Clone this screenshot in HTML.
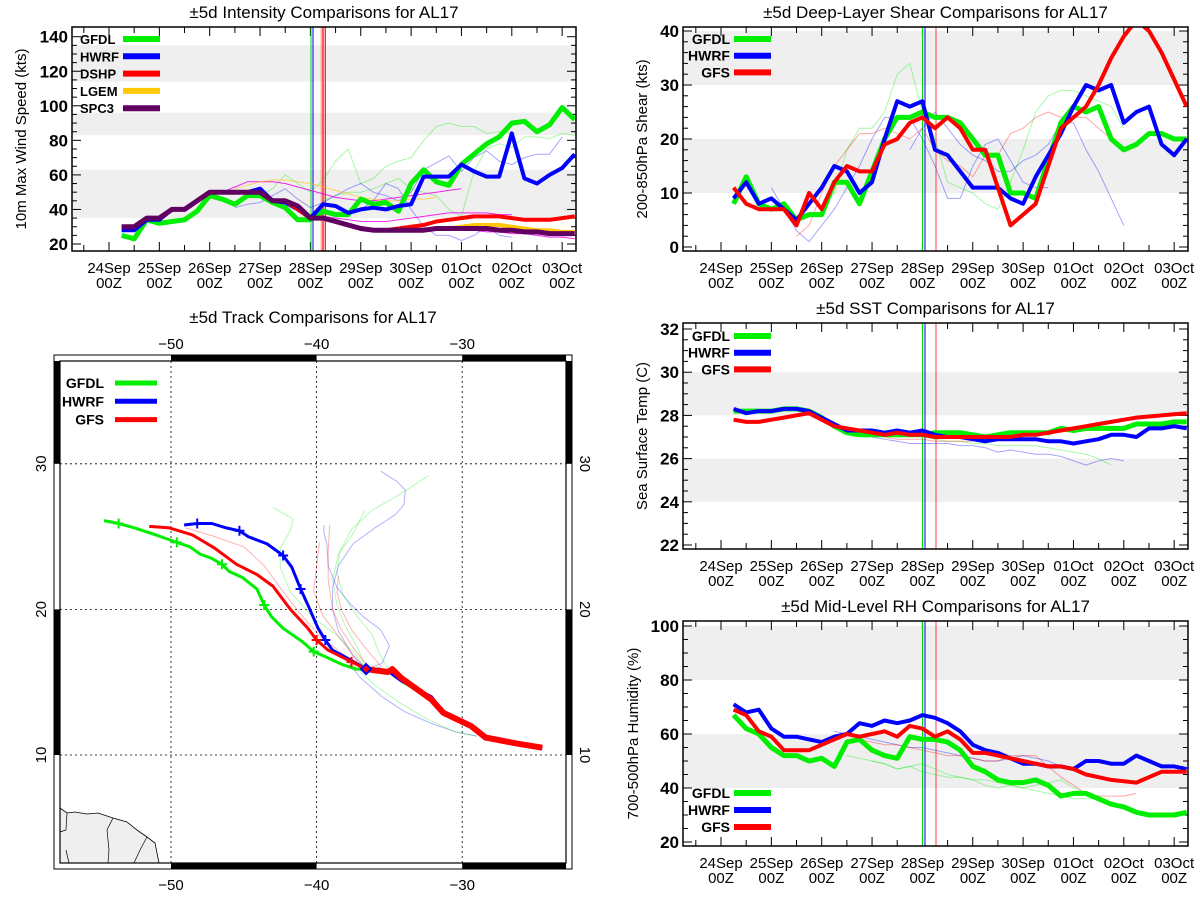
<!DOCTYPE html>
<html><head><meta charset="utf-8"><style>
html,body{margin:0;padding:0;background:#fff;}
svg{display:block;font-family:"Liberation Sans",sans-serif;}
</style></head><body>
<svg id="s" width="1200" height="900" viewBox="0 0 1200 900" xmlns="http://www.w3.org/2000/svg"></svg>
<script>
// ---------- data ----------
const dayLabels = ["24Sep","25Sep","26Sep","27Sep","28Sep","29Sep","30Sep","01Oct","02Oct","03Oct"];
// time-series values at 6h steps, starting t=1 (24Sep 06Z)
const intGFDL = [25,23,34,32,33,34,39,48,46,43,48,48,44,41,34,34,39,37,37,46,43,44,39,55,63,56,54,66,72,78,82,90,91,85,89,99,92];
const intHWRF = [28,28,34,34,40,40,45,50,50,50,50,52,45,44,40,35,43,42,38,40,41,40,42,43,59,59,59,66,62,59,59,84,58,55,60,64,72];
const intDSHP = [30,30,35,35,40,40,45,50,50,50,50,50,45,45,40,35,35,33,31,29,28,28,29,30,31,33,34,35,36,36,36,35,34,34,34,35,36];
const intLGEM = [30,30,35,35,40,40,45,50,50,50,50,50,45,45,42,35,35,33,31,29,28,28,28,28,28,29,29,30,31,31,31,30,29,28,28,27,27];
const intSPC3 = [30,30,35,35,40,40,45,50,50,50,50,50,45,45,42,35,35,33,31,29,28,28,28,28,28,29,29,29,29,29,28,28,27,27,26,26,26];
const intThinG1 = [48,52,60,55,50,57,68,75,55,58,65,68,70,80,88,90,88,88,84,85,84];
const intThinG2 = [45,48,50,50,52,55,58,52,50,48,40,36,62,75,78,76,82,82,81,84,83,80];
const intThinB1 = [41,43,44,48,52,46,41,44,48,52,55,50,48,45,50,63,67,71,62,70,74,68,66,70,72,72,82];
const intThinB2 = [38,40,45,55,52,40,30,25,25,22,25,30,25,24];
const intMag1 = [50,53,56,56,56,55,53,51,49,47,46,45,45,46,47,48,49,50,51,52];
const intMag2 = [36,35,34,33,33,33,34,35,36,37,38,38,38,38,37,37];
const intMag3 = [35,33,31,30,29,28,28,28,28,28,28,28,28,27,27,26,26,25,24,24,23];
const intYel1 = [52,54,56,57,57,56,55,53,51,49,47,46,45,45,46,46,47];

const shrGFDL = [8,13,8,7,8,5,6,6,12,12,8,14,20,24,24,25,24,24,23,20,17,17,10,10,9,16,23,26,25,26,20,18,19,21,21,20,20];
const shrHWRF = [9,12,8,9,7,5,8,11,15,14,10,12,20,27,26,27,18,17,14,11,11,11,9,8,13,17,21,26,30,29,30,23,25,26,19,17,20];
const shrGFS  = [11,8,7,7,7,4,10,7,12,15,14,14,19,20,23,24,22,24,22,18,18,11,4,6,8,15,22,24,26,30,35,39,42,40,36,31,26];
const shrThinG1 = [7,10,18,22,22,25,32,34,25,20,12,11,10,8,7,12,18,25,28,29,29,28,27,26,22];
const shrThinB1 = [11,7,3,1,4,7,11,15,20,24,24,24,20,15,9,9,15,19,20,16,12,11,11];
const shrThinR1 = [2,4,10,15,18,21,21,22,21,20,22,18,16,15,13,17,17,21,22,24,25,24,24,24,22,20];
const shrThinB2 = [18,22,25,22,19,17,16,14,14,16,17,19,23,23,18,14,9,4];

const sstGFDL = [28.2,28.2,28.2,28.2,28.3,28.3,28.2,27.9,27.5,27.2,27.1,27.1,27.1,27.1,27.1,27.1,27.2,27.2,27.2,27.1,27.0,27.1,27.2,27.2,27.2,27.2,27.4,27.3,27.4,27.4,27.4,27.4,27.6,27.6,27.6,27.7,27.7];
const sstHWRF = [28.3,28.1,28.2,28.2,28.3,28.3,28.2,27.9,27.6,27.3,27.3,27.3,27.2,27.3,27.2,27.3,27.1,27.0,27.0,26.9,26.8,26.9,26.9,26.9,26.9,26.8,26.8,26.7,26.8,26.9,27.1,27.1,27.0,27.4,27.4,27.5,27.4];
const sstGFS  = [27.8,27.7,27.7,27.8,27.9,28.0,28.1,27.8,27.5,27.4,27.3,27.2,27.1,27.2,27.1,27.1,27.0,27.0,27.0,27.0,27.0,27.0,27.0,27.1,27.1,27.2,27.3,27.4,27.5,27.6,27.7,27.8,27.9,27.95,28.0,28.05,28.1];
const sstThinB1 = [27.0,26.9,26.8,26.7,26.7,26.7,26.7,26.6,26.6,26.5,26.3,26.4,26.3,26.2,26.2,26.1,25.9,25.7,25.9,26.0,25.9];
const sstThinG1 = [27.0,26.9,26.8,26.8,26.7,26.7,26.6,26.6,26.6,26.6,26.5,26.4,26.3,26.2,26.0,25.7];
const sstThinR1 = [27.1,27.0,26.9,26.9,26.9,26.8,26.8,26.8,26.8,26.9,26.9,27.0,27.0,27.1,27.2,27.3,27.4,27.5,27.6,27.7,27.8,27.9];

const rhGFDL = [67,62,60,55,52,52,50,51,48,57,58,54,52,51,59,58,58,57,54,48,46,43,42,42,43,41,37,38,38,36,34,33,31,30,30,30,31];
const rhHWRF = [71,68,69,62,59,59,58,57,59,60,64,63,65,64,65,67,66,64,61,56,54,53,51,49,49,48,48,47,50,50,49,49,52,50,48,48,47];
const rhGFS  = [69,67,61,59,54,54,54,56,58,60,59,60,61,59,63,62,59,61,58,53,53,52,51,50,49,48,48,47,45,44,43,42.5,42,44,46,46,46];
const rhThinG1 = [52,51,50,49,47,48,49,47,45,44,43,43,42,41,40,41,42,43,40,38,36];
const rhThinG2 = [50,49,47,48,46,45,44,44,43,41,40,41,40,39,38,37,36,36,36];
const rhThinB1 = [61,60,59,58,57,56,55,55,54,53,52,51,50,50,51,52,51,50,48,47,45,44,43];
const rhThinR1 = [58,58,57,56,56,55,54,53,52,52,51,50,50,52,52,52,48,44,41,38,37,37,37,38];

// track data [lon, lat]
const trkGFDL = [[-54.6,26.1],[-53.6,25.9],[-52.5,25.6],[-51,25.1],[-49.6,24.6],[-48.7,24.3],[-48,23.8],[-47.2,23.5],[-46.5,23.1],[-46,22.6],[-45.1,22.2],[-44.1,21.4],[-43.6,20.3],[-43.1,19.5],[-42.3,18.7],[-41,17.8],[-40.2,17.1],[-39.3,16.7],[-38.2,16.2],[-37.3,15.9],[-36.6,15.9],[-35,15.7],[-34.2,15.1],[-32.1,13.8],[-31.3,12.9],[-29.4,12],[-28.4,11.2],[-26.3,10.8],[-24.5,10.55]];
const trkHWRF = [[-49.1,25.8],[-48.2,25.9],[-47.2,25.9],[-46.2,25.6],[-45.3,25.4],[-44.7,25],[-43.4,24.5],[-42.3,23.7],[-41.7,22.9],[-41.1,21.4],[-40.6,20.3],[-39.9,18.7],[-39.4,17.9],[-38.9,17.2],[-37.8,16.6],[-36.6,15.9],[-35.7,15.9],[-35,15.7],[-34.2,15.1],[-32.1,14],[-31.3,12.9],[-29.4,12],[-28.4,11.1],[-26.3,10.8],[-24.5,10.45]];
const trkGFS = [[-51.5,25.7],[-50.1,25.6],[-48.5,25.1],[-47,24.2],[-45.5,23.1],[-44.1,22.4],[-43,21.6],[-41.8,20],[-40.6,18.7],[-40,17.9],[-39.2,17.2],[-37.6,16.4],[-36.6,15.9],[-35.1,15.7],[-34.8,15.9],[-34.2,15.3],[-32.1,13.8],[-31.3,12.9],[-29.4,12],[-28.4,11.2],[-26.3,10.8],[-24.5,10.5]];
const trkGFDLmarks = [[-53.6,25.9],[-49.6,24.6],[-46.5,23.1],[-43.6,20.3],[-40.2,17.1]];
const trkHWRFmarks = [[-48.2,25.9],[-45.3,25.4],[-42.3,23.7],[-41.1,21.4],[-39.4,17.9]];
const trkGFSmarks = [[-40,17.9],[-37.6,16.4]];
const trkThinB1 = [[-36.6,15.9],[-37.5,16.8],[-38.5,18.5],[-38.9,20],[-38.9,21.5],[-38.5,23],[-37.5,24.5],[-36,25.6],[-34.6,26.5],[-34,27.2],[-33.9,28.2],[-34.5,28.8],[-35.6,29.5]];
const trkThinB2 = [[-36.6,15.9],[-35.5,16.3],[-35,17.5],[-35.6,18.6],[-36.8,19.5],[-37.7,20.4],[-38.6,21.5],[-39.2,23],[-39.3,24.5],[-39.5,25.3],[-39.5,25.8]];
const trkThinB3 = [[-38,16.6],[-37,15.3],[-35.5,14],[-34,13],[-32.2,12.2],[-30.5,11.6],[-29,11.3]];
const trkThinG4 = [[-37.5,16.2],[-36,14.8],[-34.3,13.6],[-32.5,12.5],[-30.5,11.6],[-29,11.3]];
const trkThinG1 = [[-36.6,15.9],[-37.4,17],[-38.7,18.3],[-40.2,19.4],[-41.8,21.2],[-42.5,22.9],[-42.5,24.2],[-41.8,25.4],[-41.6,26.2],[-43,27]];
const trkThinG2 = [[-35,15.7],[-35.7,17],[-36.2,18.3],[-37.2,19.5],[-38.2,21],[-38.6,22.5],[-38.4,24],[-37.6,25.5],[-36.2,26.8],[-34.3,27.9],[-32.3,29.2]];
const trkThinG3 = [[-36.6,15.9],[-37.2,17.4],[-38,18.8],[-38.6,20.3],[-38.9,22],[-38.5,23.8],[-37.5,25.2],[-36.7,26.8]];
const trkThinR1 = [[-36.6,15.9],[-37.6,17],[-38.6,18.3],[-39.6,19.6],[-40.2,21.3],[-40,23],[-39.8,24.6]];
const trkThinR2 = [[-36.6,15.9],[-38,16.8],[-39.8,18.2],[-41.2,19.8],[-42.5,21.5],[-43.6,23],[-45,24.3],[-47,25],[-49,25.6]];
const trkThinR3 = [[-35.5,16],[-36.6,17.3],[-37.6,18.6],[-38.3,20],[-38.6,21.2],[-38.5,22.3]];
const trkThinR4 = [[-36.2,15.8],[-37.3,17.1],[-38.3,18.6],[-38.9,20],[-39.2,22],[-39.2,24],[-39.1,25.8]];

// ---------- drawing helpers ----------
const NS="http://www.w3.org/2000/svg";
const svg=document.getElementById('s');
function mk(tag,attrs,parent){const e=document.createElementNS(NS,tag);for(const k in attrs)e.setAttribute(k,attrs[k]);(parent||svg).appendChild(e);return e;}
function txt(x,y,s,attrs,parent){const e=mk('text',Object.assign({x:x,y:y},attrs||{}),parent);e.textContent=s;return e;}

function panel(cfg){
  const g=mk('g',{});
  
  
  const step=50.35/4;
  const xs=t=>cfg.x24+t*step;
  const ys=v=>cfg.yTop+(cfg.vTop-v)*(cfg.yBot-cfg.yTop)/(cfg.vTop-cfg.vBot);
  const cid='clip-'+cfg.name;
  const cp=mk('clipPath',{id:cid},g);
  mk('rect',{x:cfg.L,y:cfg.T,width:cfg.R-cfg.L,height:cfg.B-cfg.T},cp);
  cfg.bands.forEach(b=>{
    const r=mk('rect',{x:cfg.L,y:ys(b[1]),width:cfg.R-cfg.L,height:ys(b[0])-ys(b[1]),fill:'#efefef'},g);
    
    
  });
  const tt=txt((cfg.L+cfg.R)/2,cfg.T-9,cfg.title,{'text-anchor':'middle','font-size':'17','fill':'#000'},g);
  
  
  for(let v=cfg.vBot;v<=cfg.vTop+1e-9;v+=cfg.minor){
    const y=ys(v);
    const isMaj=Math.abs(((v-cfg.vBot)/cfg.major)-Math.round((v-cfg.vBot)/cfg.major))<1e-6;
    const len=isMaj?9:5;
    mk('line',{x1:cfg.L,x2:cfg.L+len,y1:y,y2:y,stroke:'#000','stroke-width':1},g);
    mk('line',{x1:cfg.R,x2:cfg.R-len,y1:y,y2:y,stroke:'#000','stroke-width':1},g);
    if(isMaj){
      const l=txt(cfg.L-4,y+6,String(Math.round(v)),{'text-anchor':'end','font-size':'17','font-weight':'bold'},g);
      
      
    }
  }
  const yc=(cfg.T+cfg.B)/2;
  const yt=txt(cfg.ytx,yc,cfg.ytitle,{'text-anchor':'middle','font-size':'15','transform':'rotate(-90 '+cfg.ytx+' '+yc+')'},g);
  
  
  for(let t=-2;t<=37;t+=2){
    const x=xs(t); if(x<cfg.L||x>cfg.R) continue;
    const len=(t%4===0)?9:6;
    mk('line',{x1:x,x2:x,y1:cfg.B,y2:cfg.B-len,stroke:'#000','stroke-width':1},g);
    mk('line',{x1:x,x2:x,y1:cfg.T,y2:cfg.T+len,stroke:'#000','stroke-width':1},g);
  }
  dayLabels.forEach((d,i)=>{
    const x=xs(i*4);
    const a=txt(x,cfg.B+22,d,{'text-anchor':'middle','font-size':'15'},g);
    
    
    const b=txt(x,cfg.B+37,'00Z',{'text-anchor':'middle','font-size':'15'},g);
    
    
  });
  const pg=mk('g',{'clip-path':'url(#'+cid+')'},g);
  cfg.vlines.forEach(v=>{
    const l=mk('line',{x1:v[0],x2:v[0],y1:cfg.T,y2:cfg.B,stroke:v[1],'stroke-width':v[2]||1,'stroke-opacity':v[3]||1},pg);
    
    
  });
  function series(arr,t0,color,w,op,name){
    const d=arr.map((v,i)=>(i?'L':'M')+xs(t0+i).toFixed(1)+' '+ys(v).toFixed(1)).join(' ');
    const p=mk('path',{d:d,fill:'none',stroke:color,'stroke-width':w,'stroke-opacity':op,'stroke-linejoin':'round'},pg);
    
    
  }
  cfg.thin.forEach(s=>series(s[0],s[1],s[2],1,s[3]||0.35,'ensemble-line'));
  cfg.thick.forEach(s=>series(s[0],1,s[1],s[2]||4.5,1,s[3]));
  const fr=mk('rect',{x:cfg.L,y:cfg.T,width:cfg.R-cfg.L,height:cfg.B-cfg.T,fill:'none',stroke:'#000','stroke-width':1.5},g);
  
  
  cfg.legend.forEach((e,i)=>{
    const y=cfg.legY+i*cfg.legDy;
    const lg=mk('g',{},g);
    
    
    if(cfg.legLeft) txt(cfg.legLeft,y+5,e[0],{'text-anchor':'start','font-size':'13','font-weight':'bold'},lg);
    else txt(cfg.legTx,y+5,e[0],{'text-anchor':'end','font-size':'14','font-weight':'bold'},lg);
    mk('line',{x1:cfg.legX1,x2:cfg.legX2,y1:y,y2:y,stroke:e[1],'stroke-width':6},lg);
  });
}

panel({name:'intensity-chart',title:'±5d Intensity Comparisons for AL17',L:72,R:576,T:27,B:251,x24:109,
  yTop:36.7,yBot:244,vTop:140,vBot:20,major:20,minor:5,ytitle:'10m Max Wind Speed (kts)',ytx:26,
  bands:[[35,63],[83,96],[114,135]],
  vlines:[[311,'#00dd00'],[313,'#0000ff'],[323,'#ff6a6a',5,0.5],[323,'#ff0000',1],[325.5,'#a040a0',1]],
  thin:[[intThinG1,12,'#00ee00'],[intThinG2,17,'#00ee00'],[intThinB1,10,'#0000ff'],[intThinB2,19,'#0000ff'],
        [intMag1,9,'#ee00ee',0.85],[intMag2,17,'#ee00ee',0.85],[intMag3,17,'#ee00ee',0.85],[intYel1,10,'#ffc000',0.6]],
  thick:[[intGFDL,'#00ee00',5,'series-gfdl'],[intHWRF,'#0000ff',4,'series-hwrf'],[intDSHP,'#ff0000',4,'series-dshp'],[intLGEM,'#ffc800',4,'series-lgem'],[intSPC3,'#600060',5,'series-spc3']],
  legend:[['GFDL','#00ee00'],['HWRF','#0000ff'],['DSHP','#ff0000'],['LGEM','#ffc800'],['SPC3','#600060']],
  legY:39,legDy:17.3,legLeft:80,legTx:117,legX1:123,legX2:160});

panel({name:'shear-chart',title:'±5d Deep-Layer Shear Comparisons for AL17',L:683,R:1188,T:27,B:251,x24:721,
  yTop:31,yBot:247,vTop:40,vBot:0,major:10,minor:2,ytitle:'200-850hPa Shear (kts)',ytx:647,
  bands:[[10,20],[30,40]],
  vlines:[[922.5,'#00dd00'],[925,'#0000ff'],[936,'#ff4040']],
  thin:[[shrThinG1,8,'#00ee00'],[shrThinB1,4,'#0000ff'],[shrThinR1,6,'#ff0000'],[shrThinB2,15,'#0000ff']],
  thick:[[shrGFDL,'#00ee00',5,'series-gfdl'],[shrHWRF,'#0000ff',4,'series-hwrf'],[shrGFS,'#ff0000',4,'series-gfs']],
  legend:[['GFDL','#00ee00'],['HWRF','#0000ff'],['GFS','#ff0000']],
  legY:39,legDy:16.7,legTx:730,legX1:734,legX2:771});

panel({name:'sst-chart',title:'±5d SST Comparisons for AL17',L:683,R:1188,T:323,B:549,x24:721,
  yTop:329,yBot:545,vTop:32,vBot:22,major:2,minor:0.5,ytitle:'Sea Surface Temp (C)',ytx:647,
  bands:[[24,26],[28,30]],
  vlines:[[922.5,'#00dd00'],[925,'#0000ff'],[936,'#ff4040']],
  thin:[[sstThinB1,12,'#0000ff'],[sstThinG1,16,'#00ee00'],[sstThinR1,12,'#ff0000']],
  thick:[[sstGFDL,'#00ee00',5,'series-gfdl'],[sstHWRF,'#0000ff',4,'series-hwrf'],[sstGFS,'#ff0000',4,'series-gfs']],
  legend:[['GFDL','#00ee00'],['HWRF','#0000ff'],['GFS','#ff0000']],
  legY:336,legDy:16.7,legTx:730,legX1:734,legX2:771});

panel({name:'rh-chart',title:'±5d Mid-Level RH Comparisons for AL17',L:683,R:1188,T:621,B:846,x24:721,
  yTop:626,yBot:842,vTop:100,vBot:20,major:20,minor:5,ytitle:'700-500hPa Humidity (%)',ytx:638,
  bands:[[40,60],[80,100]],
  vlines:[[922.5,'#00dd00'],[925,'#0000ff'],[936,'#ff4040']],
  thin:[[rhThinG1,10,'#00ee00'],[rhThinG2,12,'#00ee00'],[rhThinB1,9,'#0000ff'],[rhThinR1,10,'#ff0000']],
  thick:[[rhGFDL,'#00ee00',5,'series-gfdl'],[rhHWRF,'#0000ff',4,'series-hwrf'],[rhGFS,'#ff0000',4,'series-gfs']],
  legend:[['GFDL','#00ee00'],['HWRF','#0000ff'],['GFS','#ff0000']],
  legY:793,legDy:17,legTx:730,legX1:734,legX2:771});

// ---------- track map ----------
(function(){
  const g=mk('g',{});
  
  
  const L=60,R=566,T=361,B=863;
  const lx=lon=>171+(lon+50)*14.56;
  const ly=lat=>755-(lat-10)*14.56;
  const tt=txt(313,323,'±5d Track Comparisons for AL17',{'text-anchor':'middle','font-size':'17'},g);
  
  
  mk('rect',{x:54,y:355,width:518,height:514,fill:'none',stroke:'#000','stroke-width':1},g);
  const bars=[[lx(-50),355,lx(-40)-lx(-50),6],[lx(-30),355,R-lx(-30),6],[lx(-50),B,lx(-40)-lx(-50),6],[lx(-30),B,R-lx(-30),6],
              [54,T,6,ly(30)-T],[54,ly(20),6,ly(10)-ly(20)],[R,T,6,ly(30)-T],[R,ly(20),6,ly(10)-ly(20)]];
  bars.forEach(b=>{const r=mk('rect',{x:b[0],y:b[1],width:b[2],height:b[3],fill:'#000'},g);});
  const land=mk('path',{d:'M60 863 L60 808 L67 813 L75 812 L87 814 L98 813 L113 818 L127 822 L137 830 L147 837 L155 843 L159 863 Z',fill:'#efefef',stroke:'#000','stroke-width':0.8},g);
  
  
  mk('path',{d:'M67 813 L66 830 L60 832 M113 818 L107 830 L109 850 L108 863 M147 837 L140 850 L134 863 M66 850 L69 863',fill:'none',stroke:'#000','stroke-width':0.7},g);
  mk('rect',{x:L,y:T,width:R-L,height:B-T,fill:'none',stroke:'#000','stroke-width':1.2},g);
  [-50,-40,-30].forEach(lon=>{
    mk('line',{x1:lx(lon),x2:lx(lon),y1:T,y2:B,stroke:'#000','stroke-width':0.8,'stroke-dasharray':'2,3'},g);
    const a=txt(lx(lon),349,'\u2212'+Math.abs(lon),{'text-anchor':'middle','font-size':'15'},g);
    
    const b=txt(lx(lon),890,'\u2212'+Math.abs(lon),{'text-anchor':'middle','font-size':'15'},g);
    
  });
  [10,20,30].forEach(lat=>{
    mk('line',{x1:L,x2:R,y1:ly(lat),y2:ly(lat),stroke:'#000','stroke-width':0.8,'stroke-dasharray':'2,3'},g);
    const y=ly(lat);
    const a=txt(46,y,String(lat),{'text-anchor':'middle','font-size':'15','transform':'rotate(-90 46 '+y+')'},g);
    
    const b=txt(580,y,String(lat),{'text-anchor':'middle','font-size':'15','transform':'rotate(90 580 '+y+')'},g);
    
  });
  function trk(arr,color,w,op,name){
    const d=arr.map((p,i)=>(i?'L':'M')+lx(p[0]).toFixed(1)+' '+ly(p[1]).toFixed(1)).join(' ');
    const p=mk('path',{d:d,fill:'none',stroke:color,'stroke-width':w,'stroke-opacity':op,'stroke-linejoin':'round'},g);
    
    
  }
  [[trkThinB1,'#0000ff'],[trkThinB2,'#0000ff'],[trkThinB3,'#0000ff'],[trkThinG1,'#00ee00'],[trkThinG2,'#00ee00'],[trkThinG3,'#00ee00'],[trkThinG4,'#00ee00'],
   [trkThinR1,'#ff0000'],[trkThinR2,'#ff0000'],[trkThinR3,'#ff0000'],[trkThinR4,'#ff0000']].forEach(s=>trk(s[0],s[1],1,0.3,'ensemble-track'));
  trk(trkGFDL,'#00ee00',3,1,'track-gfdl');
  trk(trkHWRF,'#0000ff',3,1,'track-hwrf');
  trk(trkGFS,'#ff0000',3,1,'track-gfs');
  trk(trkGFS.slice(12),'#ff0000',6,1,'track-gfs-observed');
  function marks(arr,color){
    arr.forEach(p=>{const x=lx(p[0]),y=ly(p[1]);
      const m=mk('path',{d:`M${x-5} ${y}L${x+5} ${y}M${x} ${y-5}L${x} ${y+5}`,stroke:color,'stroke-width':2},g);
      
      });
  }
  marks(trkGFDLmarks,'#00ee00');marks(trkHWRFmarks,'#0000ff');marks(trkGFSmarks,'#ff0000');
  const dx=lx(-36.6),dy=ly(15.9);
  const dm=mk('path',{d:`M${dx} ${dy-5}L${dx+5} ${dy}L${dx} ${dy+5}L${dx-5} ${dy}Z`,fill:'#ff0000',stroke:'#0000ff','stroke-width':2},g);
  
  
  [['GFDL','#00ee00'],['HWRF','#0000ff'],['GFS','#ff0000']].forEach((e,i)=>{
    const y=383+i*18.3;
    const lg=mk('g',{},g);
    
    
    txt(104,y+5,e[0],{'text-anchor':'end','font-size':'14','font-weight':'bold'},lg);
    mk('line',{x1:115,x2:157,y1:y,y2:y,stroke:e[1],'stroke-width':5},lg);
  });
})();
</script>
</body></html>
